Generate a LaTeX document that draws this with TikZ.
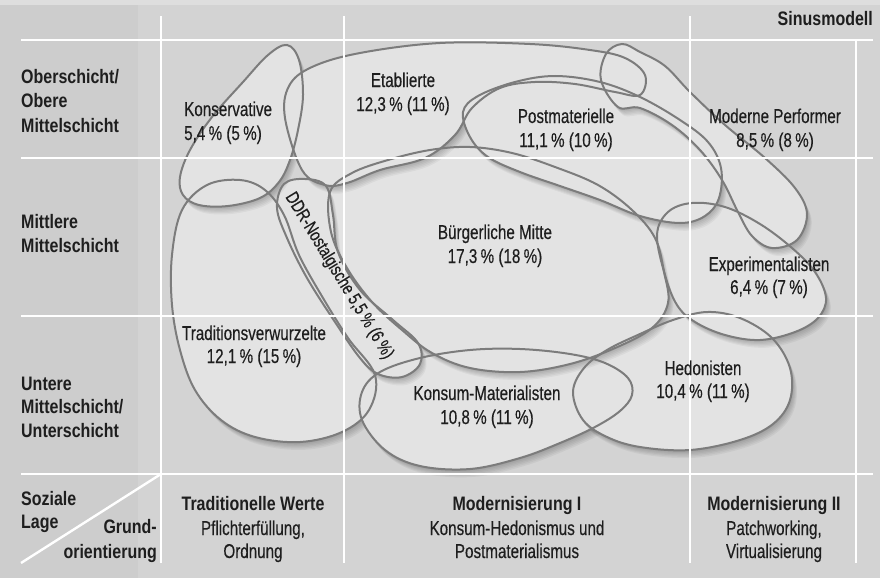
\documentclass[tikz,border=0pt]{standalone}
\usepackage{fontspec}
\setmainfont{Liberation Sans}
\newfontfamily\regfont[FakeStretch=0.76,FakeBold=0.35]{Liberation Sans}
\newfontfamily\hdfont[FakeStretch=0.82]{Liberation Sans}
\definecolor{bg}{HTML}{CDCDCD}
\definecolor{panel}{HTML}{D3D3D3}
\definecolor{topstrip}{HTML}{DEDEDE}
\definecolor{blobfill}{HTML}{E3E3E3}
\definecolor{edgecol}{HTML}{7C7C7C}
\definecolor{txt}{HTML}{1E1E1E}

% milieu outlines (x to the right, y downwards)
\newcommand\pathK{plot[smooth cycle, tension=0.6] coordinates {(287,45) (299,60) (303,95) (298,130) (290,160) (279,182) (260,198) (228,206) (199,205) (183,195) (180,177) (190,150) (212,117) (243,82) (268,55)}}
\newcommand\pathE{plot[smooth cycle, tension=0.6] coordinates {(285,118) (289,86) (312,67) (360,53) (440,43) (530,44) (590,50) (625,58) (645,75) (640,95) (615,92) (575,84) (535,82) (500,88) (472,108) (455,135) (425,158) (380,170) (347,183) (325,185) (302,170)}}
\newcommand\pathMP{plot[smooth cycle, tension=0.6] coordinates {(601,80) (606,54) (622,44) (640,52) (665,66) (690,92) (725,125) (765,158) (795,188) (807,214) (797,240) (772,248) (752,236) (738,212) (722,180) (700,150) (672,125) (640,108) (618,107)}}
\newcommand\pathP{plot[smooth cycle, tension=0.6] coordinates {(463,112) (478,96) (515,82) (555,76) (600,82) (640,97) (680,120) (708,142) (721,168) (719,198) (705,216) (680,223) (640,216) (600,200) (560,186) (520,172) (488,157) (470,137)}}
\newcommand\pathBM{plot[smooth cycle, tension=0.6] coordinates {(330,192) (352,173) (388,160) (430,150) (470,147) (512,153) (555,167) (598,185) (632,210) (655,238) (664,272) (668,303) (652,328) (615,348) (570,364) (520,372) (470,368) (432,353) (402,330) (372,302) (347,268) (331,232)}}
\newcommand\pathDDR{plot[smooth cycle, tension=0.6] coordinates {(284,184) (305,179) (326,186) (333,215) (338,252) (360,290) (393,320) (418,343) (420,364) (402,377) (378,374) (360,358) (335,322) (307,278) (287,238) (277,208)}}
\newcommand\pathT{plot[smooth cycle, tension=0.6] coordinates {(172,255) (182,210) (207,185) (240,180) (265,190) (284,215) (299,255) (323,298) (348,338) (375,375) (369,410) (342,432) (300,442) (255,437) (221,420) (195,390) (180,350) (172,305)}}
\newcommand\pathKM{plot[smooth cycle, tension=0.6] coordinates {(380,372) (420,358) (470,350) (520,349) (570,354) (605,363) (628,378) (632,395) (620,411) (595,427) (560,443) (520,458) (470,469) (420,466) (385,450) (362,420) (362,392)}}
\newcommand\pathH{plot[smooth cycle, tension=0.6] coordinates {(573,392) (584,368) (607,350) (640,334) (673,320) (707,312) (740,318) (772,338) (790,368) (790,400) (773,424) (740,440) (690,450) (640,447) (607,437) (583,420)}}
\newcommand\pathX{plot[smooth cycle, tension=0.6] coordinates {(657,235) (668,212) (692,203) (725,207) (760,224) (792,248) (815,272) (826,298) (818,318) (795,332) (760,340) (725,335) (695,322) (677,305) (665,275)}}

% soft shadow, then the light body of a milieu
\newcommand\milieu[1]{%
  \foreach \s in {1,2,3,4,5,6}{\fill[black,opacity=0.045,shift={(0.8*\s,1.3*\s)}] #1;}
  \fill[blobfill] #1;}

\begin{document}
\begin{tikzpicture}[x=1pt,y=-1pt,
  gridline/.style={white,line width=2.4pt},
  edge/.style={edgecol,line width=2pt},
  lbl/.style={inner sep=0pt,text=txt,font=\regfont\fontsize{20}{24}\selectfont},
  hd/.style={inner sep=0pt,text=txt,font=\hdfont\bfseries\fontsize{19.5}{24}\selectfont}]
\useasboundingbox (0,0) rectangle (880,578);
\fill[bg] (0,0) rectangle (880,578);
\fill[panel] (138,0) rectangle (880,578);
\fill[topstrip] (0,0) rectangle (880,5);
\shade[inner color=white!86!black, outer color=panel, opacity=0.8] (161,40) rectangle (856,474);

% milieus, back to front
\milieu{\pathT}
\milieu{\pathKM}
\milieu{\pathH}
\milieu{\pathX}
\milieu{\pathBM}
\milieu{\pathDDR}
\milieu{\pathK}
\milieu{\pathE}
\milieu{\pathP}
\milieu{\pathMP}
\foreach \p in {\pathT,\pathKM,\pathH,\pathX,\pathBM,\pathDDR,\pathK,\pathE,\pathP,\pathMP}{\draw[edge] \p;}

% grid
\draw[gridline] (21,40) -- (873,40);
\draw[gridline] (21,158) -- (873,158);
\draw[gridline] (21,316) -- (873,316);
\draw[gridline] (21,474) -- (873,474);
\draw[gridline] (161,16) -- (161,563);
\draw[gridline] (344,16) -- (344,563);
\draw[gridline] (690,16) -- (690,563);
\draw[gridline] (856,40) -- (856,563);
\draw[gridline] (161,474) -- (21,563);

% title
\node[hd,anchor=base east] (title) at (873,26) {Sinusmodell};

% social position
\node[hd,anchor=base west] (r1a) at (21,83) {Oberschicht/};
\node[hd,anchor=base west] (r1b) at (21,107) {Obere};
\node[hd,anchor=base west] (r1c) at (21,132) {Mittelschicht};
\node[hd,anchor=base west] (r2a) at (21,228) {Mittlere};
\node[hd,anchor=base west] (r2b) at (21,252) {Mittelschicht};
\node[hd,anchor=base west] (r3a) at (21,390) {Untere};
\node[hd,anchor=base west] (r3b) at (21,413) {Mittelschicht/};
\node[hd,anchor=base west] (r3c) at (21,437) {Unterschicht};
\node[hd,anchor=base west] (sl1) at (21,505) {Soziale};
\node[hd,anchor=base west] (sl2) at (21,528) {Lage};
\node[hd,anchor=base east] (go1) at (157,533) {Grund-};
\node[hd,anchor=base east] (go2) at (157,558) {orientierung};

% basic orientation
\node[hd,anchor=base] (c1a) at (253,510) {Traditionelle Werte};
\node[lbl,anchor=base] (c1b) at (253,535) {Pflichterfüllung,};
\node[lbl,anchor=base] (c1c) at (253,558) {Ordnung};
\node[hd,anchor=base] (c2a) at (517,510) {Modernisierung I};
\node[lbl,anchor=base] (c2b) at (517,535) {Konsum-Hedonismus und};
\node[lbl,anchor=base] (c2c) at (517,558) {Postmaterialismus};
\node[hd,anchor=base] (c3a) at (774,510) {Modernisierung II};
\node[lbl,anchor=base] (c3b) at (774,535) {Patchworking,};
\node[lbl,anchor=base] (c3c) at (774,558) {Virtualisierung};

% milieu labels
\node[lbl,anchor=base west] (kon1) at (184,116) {Konservative};
\node[lbl,anchor=base west] (kon2) at (184,140) {5,4\,\% (5\,\%)};
\node[lbl,anchor=base] (eta1) at (403,87) {Etablierte};
\node[lbl,anchor=base] (eta2) at (403,111) {12,3\,\% (11\,\%)};
\node[lbl,anchor=base] (pm1) at (566,123) {Postmaterielle};
\node[lbl,anchor=base] (pm2) at (566,147) {11,1\,\% (10\,\%)};
\node[lbl,anchor=base] (mp1) at (775,123) {Moderne Performer};
\node[lbl,anchor=base] (mp2) at (775,147) {8,5\,\% (8\,\%)};
\node[lbl,anchor=base] (bm1) at (495,239) {Bürgerliche Mitte};
\node[lbl,anchor=base] (bm2) at (495,263) {17,3\,\% (18\,\%)};
\node[lbl,anchor=base] (ex1) at (769,271) {Experimentalisten};
\node[lbl,anchor=base] (ex2) at (769,294) {6,4\,\% (7\,\%)};
\node[lbl,anchor=base] (tv1) at (254,340) {Traditionsverwurzelte};
\node[lbl,anchor=base] (tv2) at (254,363) {12,1\,\% (15\,\%)};
\node[lbl,anchor=base] (he1) at (703,375) {Hedonisten};
\node[lbl,anchor=base] (he2) at (703,398) {10,4\,\% (11\,\%)};
\node[lbl,anchor=base] (km1) at (487,400) {Konsum-Materialisten};
\node[lbl,anchor=base] (km2) at (487,424) {10,8\,\% (11\,\%)};
\node[lbl,rotate=-58.6,font=\regfont\fontsize{18.5}{22}\selectfont] (ddr) at (339,276) {DDR-Nostalgische 5,5\,\% (6\,\%)};
\end{tikzpicture}
\end{document}
